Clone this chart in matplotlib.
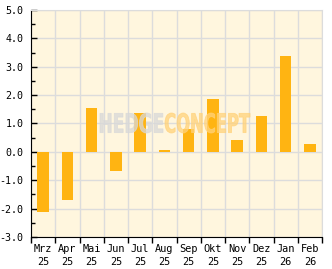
import numpy as np
import matplotlib.pyplot as plt
from matplotlib.ticker import MultipleLocator, FixedLocator
from matplotlib.textpath import TextPath
from matplotlib.patches import PathPatch
from matplotlib.font_manager import FontProperties
from matplotlib.transforms import Affine2D

# DATEN
monate = ["Mrz", "Apr", "Mai", "Jun", "Jul", "Aug", "Sep", "Okt", "Nov", "Dez", "Jan", "Feb"]
jahre = ["25", "25", "25", "25", "25", "25", "25", "25", "25", "25", "26", "26"]
werte = [-2.13, -1.71, 1.55, -0.66, 1.37, 0.08, 0.80, 1.87, 0.40, 1.27, 3.38, 0.28]

FARBE_BALKEN = "#FFB412"
FARBE_HINTERGRUND = "#FFF6DE"
FARBE_GITTER = "#DCDCDC"

W, H = 332, 269
fig = plt.figure(figsize=(W / 100, H / 100), dpi=100)
ax = fig.add_axes([0.0934, 0.119, 0.8766, 0.844])
ax.set_facecolor(FARBE_HINTERGRUND)

x = np.arange(len(werte))
ax.bar(x, werte, width=0.48, color=FARBE_BALKEN, zorder=3)

ax.set_xlim(-0.5, len(werte) - 0.5)
ax.set_ylim(-3, 5)

# Gitter
ax.yaxis.set_major_locator(MultipleLocator(1))
ax.yaxis.set_minor_locator(MultipleLocator(0.5))
ax.set_yticklabels([f"{v:.1f}" for v in ax.get_yticks()])
ax.xaxis.set_major_locator(FixedLocator(x))
ax.xaxis.set_minor_locator(FixedLocator(np.arange(-0.5, len(werte), 1)))
ax.set_xticklabels([f"{m}\n{j}" for m, j in zip(monate, jahre)])
ax.grid(axis="y", which="major", color=FARBE_GITTER, linewidth=1, zorder=0)
ax.grid(axis="x", which="minor", color=FARBE_GITTER, linewidth=1, zorder=0)

ax.tick_params(axis="y", which="major", direction="in", length=4, width=1, labelsize=7.2, pad=5.5)
ax.tick_params(axis="y", which="minor", direction="in", length=3, width=1)
ax.tick_params(axis="x", which="major", length=0, labelsize=7.4, pad=5)
ax.tick_params(axis="x", which="minor", direction="out", length=4, width=1)
for lbl in ax.get_xticklabels() + ax.get_yticklabels():
    lbl.set_family("DejaVu Sans Mono")
    lbl.set_linespacing(1.35)

ax.spines["top"].set_color(FARBE_GITTER)
ax.spines["right"].set_color(FARBE_GITTER)
ax.spines["left"].set_color("black")
ax.spines["bottom"].set_color("black")


# Wasserzeichen (schmal gestaucht, in Pixeln platziert)
def wasserzeichen(text, x0, x1, y0, y1, farbe):
    pfad = TextPath((0, 0), text, size=20, prop=FontProperties(family="DejaVu Sans", weight="bold"))
    ext = pfad.get_extents()
    sx = (x1 - x0) / ext.width
    sy = (y1 - y0) / ext.height
    tr = (Affine2D().translate(-ext.x0, -ext.y0).scale(sx, sy)
          .translate(x0, H - y1).scale(1 / W, 1 / H) + fig.transFigure)
    fig.add_artist(PathPatch(pfad, facecolor=farbe, edgecolor=farbe, linewidth=0.6,
                             alpha=0.75, transform=tr, zorder=5))


wasserzeichen("HEDGE", 100, 163, 113, 133, "#D8D8D8")
wasserzeichen("CONCEPT", 165, 250, 113, 133, "#FFD27A")

fig.savefig("out.png", dpi=100)
